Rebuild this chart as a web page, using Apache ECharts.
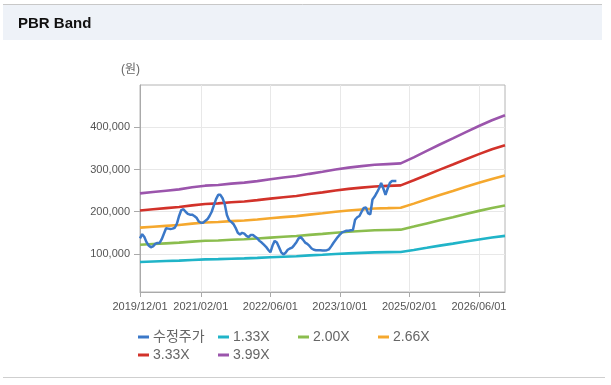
<!DOCTYPE html>
<html><head><meta charset="utf-8">
<script src="https://cdn.jsdelivr.net/npm/echarts@6/dist/echarts.min.js"></script>
<style>html,body{margin:0;padding:0;background:#fff}#c{width:611px;height:385px}</style>
</head><body><div id="c"></div>
<script>
const chartTitle = 'PBR Band';
const unitLabel = '(원)';
const tickLabels = ['2019/12/01', '2021/02/01', '2022/06/01', '2023/10/01', '2025/02/01', '2026/06/01'];
const yTickValues = [100000, 200000, 300000, 400000];
const yMin = 10000, yMax = 500000;

// half-month categories 2019/12/01 .. 2026/12/01
const startYear = 2019, startMonth = 12, monthCount = 84;
const categories = [];
for (let m = 0; m <= monthCount; m++) {
  const y = startYear + Math.floor((startMonth - 1 + m) / 12);
  const mo = String((startMonth - 1 + m) % 12 + 1).padStart(2, '0');
  categories.push(y + '/' + mo + '/01');
  if (m < monthCount) categories.push(y + '/' + mo + '/16');
}

const priceName = '수정주가';
// half-monthly adjusted price from 2019/12/01
const priceValues = [
  137000,147000,140000,128000,120000,116000,118000,124000,126000,126000,
  135000,148000,161000,160000,159000,160000,162000,172000,190000,204000,
  206000,200000,195000,193000,193000,190000,186000,177000,174000,174000,
  178000,182000,190000,200000,215000,230000,240000,240000,232000,218000,
  192000,180000,176000,171000,162000,150000,146000,150000,148000,143000,
  140000,145000,145000,141000,137000,131000,127000,122000,117000,110000,
  104000,120000,131000,127000,116000,104000,99000,103000,110000,113000,
  115000,121000,128000,137000,140000,134000,127000,124000,119000,113000,
  110000,109000,109000,109000,108000,108000,109000,111000,118000,126000,
  133000,140000,146000,151000,153000,155000,155000,156000,157000,181000,
  187000,190000,200000,209000,210000,196000,194000,229000,236000,245000,
  255000,268000,255000,240000,255000,268000,273000,273000,273000
];

// quarterly band values from 2019/12/01 (every 6 half-month categories)
const bandIndexStep = 6;
const bandNames = ['1.33X', '2.00X', '2.66X', '3.33X', '3.99X'];
const band133 = [81100,82200,83300,84300,85900,87200,87800,88800,89600,90800,92300,93600,94800,96600,98200,100000,101500,102700,103700,104300,104800,109600,114600,119700,124500,129500,134300,138900,142800];
const band200 = [122000,123600,125200,126800,129200,131200,132000,133600,134800,136600,138800,140800,142600,145200,147600,150400,152600,154400,156000,156800,157600,164800,172400,180000,187200,194800,202000,208800,214800];
const band266 = [162300,164400,166500,168600,171800,174500,175600,177700,179300,181700,184600,187300,189700,193100,196300,200000,203000,205400,207500,208500,209600,219200,229300,239400,249000,259100,268700,277700,285700];
const band333 = [203100,205800,208500,211100,215100,218400,219800,222400,224400,227400,231100,234400,237400,241800,245800,250400,254100,257100,259700,261100,262400,274400,287000,299700,311700,324300,336300,347700,357600];
const band399 = [243400,246600,249800,253000,257800,261700,263300,266500,268900,272500,276900,280900,284500,289700,294500,300000,304400,308000,311200,312800,314400,328800,343900,359100,373500,388600,403000,416600,428500];
const bandValues = [band133, band200, band266, band333, band399];

const priceColor = '#3b78c8';
const bandColors = ['#20b4c8', '#8bbd4e', '#f5a82e', '#d2322a', '#9b55ac'];

const FONT = '"Liberation Sans", "Noto Sans CJK KR", sans-serif';
const showAt = (idx, val) => tickLabels.indexOf(val) >= 0;

const chart = echarts.init(document.getElementById('c'), null, {renderer: 'canvas'});
const series = bandNames.map((name, k) => ({
  name: name,
  type: 'line',
  data: bandValues[k].map((v, i) => [i * bandIndexStep, v]),
  showSymbol: false,
  symbol: 'none',
  connectNulls: true,
  lineStyle: {width: 2.6, color: bandColors[k]},
  itemStyle: {color: bandColors[k]},
  z: 2,
  animation: false
}));
series.push({
  name: priceName,
  type: 'line',
  data: priceValues.map((v, i) => [i, v]),
  showSymbol: false,
  symbol: 'none',
  lineStyle: {width: 2.5, color: priceColor},
  itemStyle: {color: priceColor},
  z: 3,
  animation: false
});

chart.setOption({
  animation: false,
  backgroundColor: '#fff',
  title: {
    text: chartTitle, left: 18, top: 16, padding: 0,
    textStyle: {fontFamily: FONT, fontSize: 15, fontWeight: 'bold', color: '#111'}
  },
  graphic: [
    {type: 'rect', z: -10, shape: {x: 3, y: 4, width: 599, height: 36}, style: {fill: '#eef2f8'}},
    {type: 'line', z: -9, shape: {x1: 3, y1: 4.5, x2: 602, y2: 4.5}, style: {stroke: '#c8c8c8', lineWidth: 1}},
    {type: 'line', z: -9, shape: {x1: 3, y1: 377.5, x2: 605, y2: 377.5}, style: {stroke: '#cfcfcf', lineWidth: 1}},
    {type: 'text', left: 121, top: 64, style: {text: unitLabel, font: '12px ' + FONT, fill: '#666'}}
  ],
  legend: {
    data: [priceName].concat(bandNames),
    left: 138, top: 328, width: 340, padding: 0,
    orient: 'horizontal',
    itemGap: 0, itemWidth: 11, itemHeight: 3, icon: 'rect',
    textStyle: {fontFamily: FONT, fontSize: 14, color: '#666', width: 65, height: 18, lineHeight: 18, padding: [0, 0, 0, -1]}
  },
  grid: {left: 140, right: 106, top: 85, bottom: 93, show: true, borderColor: '#b4b4b4', borderWidth: 1, containLabel: false},
  xAxis: {
    type: 'category',
    data: categories,
    boundaryGap: false,
    axisLine: {lineStyle: {color: '#aaa'}},
    axisTick: {show: true, interval: showAt, length: 5, lineStyle: {color: '#aaa'}},
    axisLabel: {interval: showAt, margin: 9, fontFamily: FONT, fontSize: 11, color: '#555', hideOverlap: false},
    splitLine: {show: true, interval: showAt, lineStyle: {color: '#e8e8e8'}}
  },
  yAxis: {
    type: 'value',
    min: yMin, max: yMax,
    axisLine: {show: true, lineStyle: {color: '#aaa'}},
    axisTick: {show: true, customValues: yTickValues, length: 6, lineStyle: {color: '#aaa'}},
    axisLabel: {customValues: yTickValues, margin: 10, fontFamily: FONT, fontSize: 11, color: '#555',
      formatter: v => v.toLocaleString('en-US')},
    splitLine: {show: true, lineStyle: {color: '#e8e8e8'}}
  },
  series: series
});
</script>
</body></html>
